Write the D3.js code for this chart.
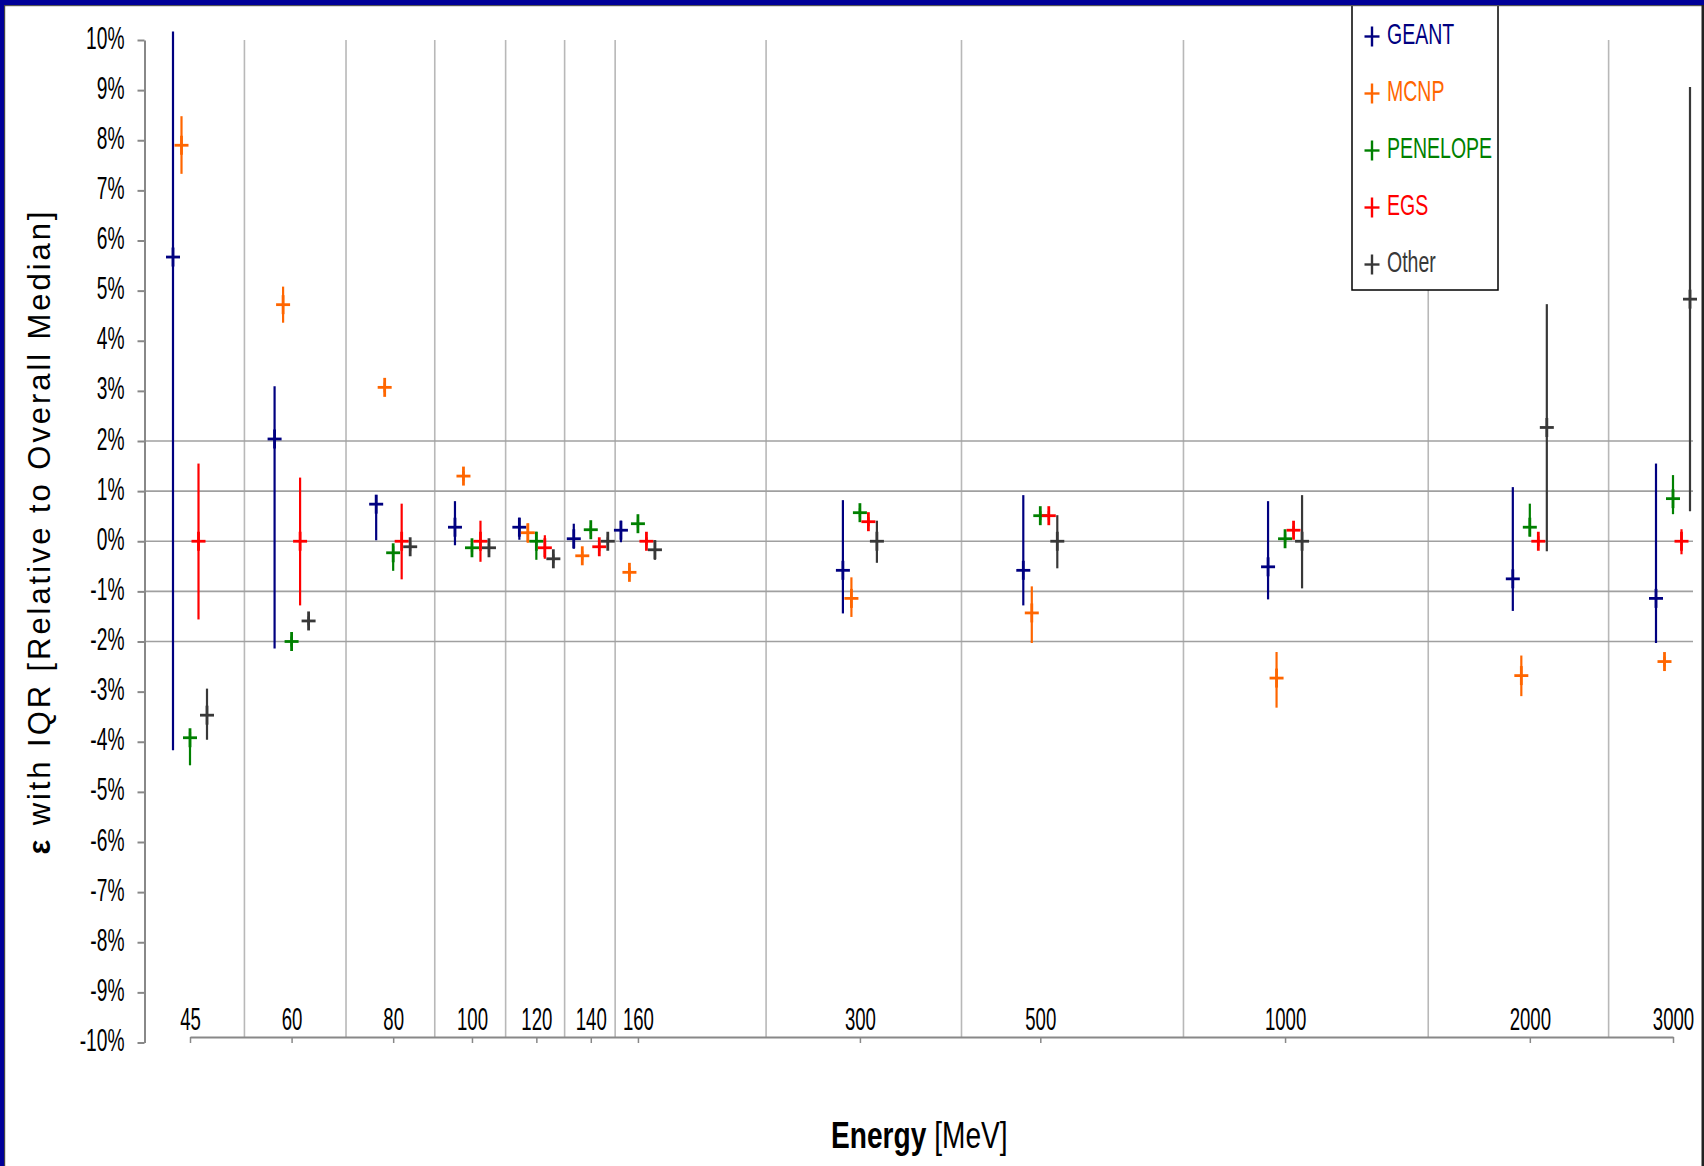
<!DOCTYPE html>
<html>
<head>
<meta charset="utf-8">
<script src="https://cdn.jsdelivr.net/npm/d3@7"></script>
<style>
  html, body { margin: 0; padding: 0; background: #fff; }
  svg { display: block; }
  text { font-family: "Liberation Sans", Arial, sans-serif; }
</style>
</head>
<body>
<script>
// ---------------- DATA ----------------
const categories = [45, 60, 80, 100, 120, 140, 160, 300, 500, 1000, 2000, 3000];
const seriesNames = ["GEANT", "MCNP", "PENELOPE", "EGS", "Other"];
const yTicks = [-10, -9, -8, -7, -6, -5, -4, -3, -2, -1, 0, 1, 2, 3, 4, 5, 6, 7, 8, 9, 10];
const hGridValues = [-2, -1, 0, 1, 2];

const geantMedian = [5.67, 2.04, 0.74, 0.28, 0.28, 0.05, 0.22, -0.58, -0.58, -0.51, -0.75, -1.14];
const geantLow    = [-4.17, -2.14, 0.02, -0.08, 0.03, -0.15, -0.02, -1.44, -1.28, -1.16, -1.39, -2.03];
const geantHigh   = [10.17, 3.09, 0.92, 0.80, 0.47, 0.35, 0.41, 0.82, 0.92, 0.80, 1.08, 1.55];

const mcnpMedian = [7.90, 4.72, 3.07, 1.30, 0.17, -0.29, -0.62, -1.14, -1.43, -2.73, -2.68, -2.40];
const mcnpLow    = [7.33, 4.36, 2.97, 1.20, -0.03, -0.38, -0.72, -1.51, -2.03, -3.32, -3.09, -2.50];
const mcnpHigh   = [8.48, 5.08, 3.17, 1.40, 0.35, -0.20, -0.52, -0.72, -0.90, -2.21, -2.28, -2.30];

const penelopeMedian = [-3.92, -2.00, -0.23, -0.13, 0.00, 0.23, 0.35, 0.57, 0.51, 0.05, 0.28, 0.85];
const penelopeLow    = [-4.47, -2.10, -0.59, -0.22, -0.37, 0.15, 0.27, 0.48, 0.42, -0.05, 0.10, 0.54];
const penelopeHigh   = [-3.80, -1.90, -0.10, -0.05, 0.19, 0.31, 0.43, 0.66, 0.60, 0.15, 0.75, 1.32];

const egsMedian = [0.00, 0.00, 0.00, 0.00, -0.13, -0.11, 0.00, 0.39, 0.51, 0.22, 0.00, 0.00];
const egsLow    = [-1.56, -1.28, -0.76, -0.41, -0.35, -0.20, -0.08, 0.30, 0.42, 0.14, -0.10, -0.26];
const egsHigh   = [1.55, 1.27, 0.75, 0.41, 0.12, -0.02, 0.08, 0.48, 0.60, 0.30, 0.10, 0.24];

const otherMedian = [-3.47, -1.59, -0.11, -0.13, -0.35, 0.00, -0.17, 0.00, 0.00, 0.00, 2.27, 4.83];
const otherLow    = [-3.96, -1.68, -0.20, -0.22, -0.44, -0.08, -0.37, -0.43, -0.54, -0.94, -0.20, 0.60];
const otherHigh   = [-2.94, -1.50, -0.02, -0.04, -0.26, 0.08, 0.02, 0.41, 0.52, 0.92, 4.73, 9.06];

const seriesColors = ["#000080", "#FF6600", "#008000", "#FF0000", "#383838"];

const seriesData = [
  { name: "GEANT",    median: geantMedian,    low: geantLow,    high: geantHigh },
  { name: "MCNP",     median: mcnpMedian,     low: mcnpLow,     high: mcnpHigh },
  { name: "PENELOPE", median: penelopeMedian, low: penelopeLow, high: penelopeHigh },
  { name: "EGS",      median: egsMedian,      low: egsLow,      high: egsHigh },
  { name: "Other",    median: otherMedian,    low: otherLow,    high: otherHigh }
];

// ---------------- LAYOUT ----------------
const W = 1704, H = 1166;
const svg = d3.select("body").append("svg").attr("width", W).attr("height", H);
svg.append("rect").attr("width", W).attr("height", H).attr("fill", "#fff");

const x = d3.scaleLog().domain([45, 3000]).range([190, 1673]);
const y = d3.scaleLinear().domain([-10, 10]).range([1042.5, 40]);
const off = d3.scalePoint().domain(seriesNames).range([-17, 17]);
const color = d3.scaleOrdinal().domain(seriesNames).range(seriesColors);

const axisX0 = 144.5, xAxisY = 1037, plotRight = 1693;

// vertical gridlines between categories
const vGrid = d3.pairs(categories).map(p => (p[0] + p[1]) / 2);
svg.append("g").selectAll("line").data(vGrid).join("line")
  .attr("x1", d => x(d)).attr("x2", d => x(d))
  .attr("y1", y(10)).attr("y2", xAxisY)
  .attr("stroke", "#b8b8b8").attr("stroke-width", 1.6);

// horizontal gridlines
svg.append("g").selectAll("line").data(hGridValues).join("line")
  .attr("x1", axisX0).attr("x2", plotRight)
  .attr("y1", d => y(d)).attr("y2", d => y(d))
  .attr("stroke", "#a0a0a0").attr("stroke-width", 1.6);

// Y axis
const yAxis = svg.append("g").attr("transform", `translate(${axisX0},0)`)
  .call(d3.axisLeft(y).tickValues(yTicks).tickSize(7).tickSizeOuter(0).tickFormat(d => d + "%"));
yAxis.select(".domain").attr("stroke", "#888").attr("stroke-width", 2);
yAxis.selectAll(".tick line").attr("stroke", "#888").attr("stroke-width", 2);
yAxis.selectAll(".tick text")
  .attr("font-size", 32).attr("fill", "#000")
  .attr("font-family", "'Liberation Sans', Arial, sans-serif")
  .attr("x", -20 / 0.6).attr("dy", "0.25em")
  .attr("transform", "scale(0.6,1)");

// X axis
const xAxis = svg.append("g").attr("transform", `translate(0,${xAxisY})`)
  .call(d3.axisBottom(x).tickValues(categories).tickFormat(d3.format("d")).tickSize(6).tickSizeOuter(0));
xAxis.select(".domain").attr("stroke", "#888").attr("stroke-width", 2);
xAxis.selectAll(".tick line").attr("stroke", "#888").attr("stroke-width", 1.5);
xAxis.selectAll(".tick text")
  .attr("font-size", 31).attr("fill", "#000")
  .attr("font-family", "'Liberation Sans', Arial, sans-serif")
  .attr("y", -7).attr("dy", 0)
  .attr("transform", "scale(0.6,1)");

// data: error bars + "+" markers
seriesData.forEach(s => {
  const g = svg.append("g").attr("stroke", color(s.name));
  const pts = categories.map((c, i) => ({ c, med: s.median[i], lo: s.low[i], hi: s.high[i] }));
  const px = d => x(d.c) + off(s.name);
  g.selectAll("line.err").data(pts).join("line").attr("class", "err")
    .attr("x1", px).attr("x2", px)
    .attr("y1", d => y(d.hi)).attr("y2", d => y(d.lo))
    .attr("stroke-width", 2.2);
  g.selectAll("line.mh").data(pts).join("line").attr("class", "mh")
    .attr("x1", d => px(d) - 7).attr("x2", d => px(d) + 7)
    .attr("y1", d => y(d.med)).attr("y2", d => y(d.med))
    .attr("stroke-width", 2.8);
  g.selectAll("line.mv").data(pts).join("line").attr("class", "mv")
    .attr("x1", px).attr("x2", px)
    .attr("y1", d => y(d.med) - 9.5).attr("y2", d => y(d.med) + 9.5)
    .attr("stroke-width", 2.8);
});

// Legend
const leg = svg.append("g");
leg.append("rect").attr("x", 1352).attr("y", 3).attr("width", 146).attr("height", 287)
  .attr("fill", "#fff").attr("stroke", "#000").attr("stroke-width", 1.5);
seriesNames.forEach((n, i) => {
  const cy = 36.5 + 57 * i;
  const gi = leg.append("g").attr("stroke", color(n)).attr("stroke-width", 2.4);
  gi.append("line").attr("x1", 1364.5).attr("x2", 1379.5).attr("y1", cy).attr("y2", cy);
  gi.append("line").attr("x1", 1372).attr("x2", 1372).attr("y1", cy - 10).attr("y2", cy + 10);
  leg.append("text")
    .attr("transform", `translate(1387,${cy + 7}) scale(0.65,1)`)
    .attr("font-size", 30).attr("fill", color(n)).text(n);
});

// Y axis title
const yt = svg.append("text")
  .attr("transform", "translate(50,533) rotate(-90)")
  .attr("text-anchor", "middle")
  .attr("font-size", 31).attr("fill", "#000")
  .attr("textLength", 643).attr("lengthAdjust", "spacing");
yt.append("tspan").attr("font-weight", "bold").text("ε");
yt.append("tspan").text(" with IQR [Relative to Overall Median]");

// X axis title
const xt = svg.append("text")
  .attr("transform", "translate(831,1148) scale(0.76,1)")
  .attr("font-size", 37).attr("fill", "#000");
xt.append("tspan").attr("font-weight", "bold").text("Energy");
xt.append("tspan").text(" [MeV]");

// frame borders (slide style)
svg.append("rect").attr("x", 0).attr("y", 0).attr("width", W).attr("height", 5).attr("fill", "#000099");
svg.append("rect").attr("x", 0).attr("y", 5).attr("width", W).attr("height", 1.2).attr("fill", "#555");
svg.append("rect").attr("x", 0).attr("y", 0).attr("width", 4).attr("height", H).attr("fill", "#000099");
svg.append("rect").attr("x", 4).attr("y", 5).attr("width", 1.2).attr("height", H).attr("fill", "#444");
svg.append("rect").attr("x", 1701.5).attr("y", 5).attr("width", 2.5).attr("height", H).attr("fill", "#222");
</script>
</body>
</html>
